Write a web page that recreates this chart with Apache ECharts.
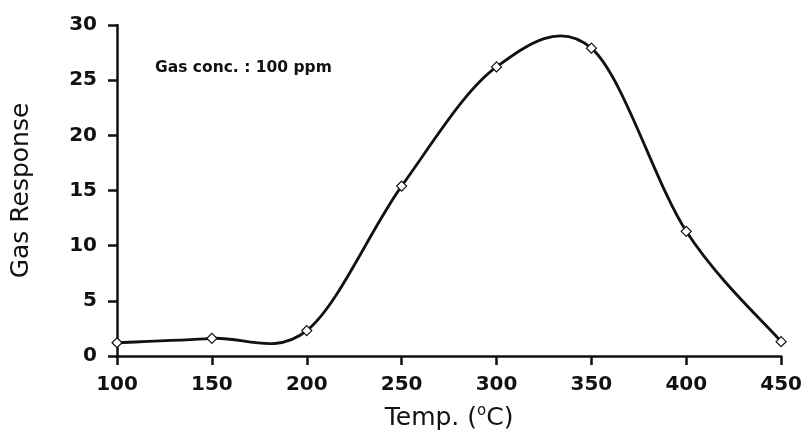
<!DOCTYPE html>
<html>
<head>
<meta charset="utf-8">
<script src="https://cdn.jsdelivr.net/npm/echarts@6/dist/echarts.min.js"></script>
<style>
html,body{margin:0;padding:0;background:#fff;}
#chart{width:805px;height:439px;}
</style>
</head>
<body>
<div id="chart"></div>
<script>
// Data
const temperatures = [100, 150, 200, 250, 300, 350, 400, 450];
const gasResponse = [1.2, 1.6, 2.3, 15.4, 26.2, 27.9, 11.3, 1.3];
const xTicks = [100, 150, 200, 250, 300, 350, 400, 450];
const yTicks = [0, 5, 10, 15, 20, 25, 30];
const annotation = 'Gas conc. : 100 ppm';

const points = temperatures.map((t, i) => [t, gasResponse[i]]);
const ink = '#111';

// Smooth (Catmull-Rom style) curve segment between point i and i+1, in pixel space via the axes
function renderSegment(params, api) {
  const i = params.dataIndex;
  const n = points.length;
  if (i >= n - 1) return null;
  const P = k => api.coord(points[Math.max(0, Math.min(n - 1, k))]);
  const p0 = P(i - 1), p1 = P(i), p2 = P(i + 1), p3 = P(i + 2);
  const t = 1 / 6;
  return {
    type: 'bezierCurve',
    shape: {
      x1: p1[0], y1: p1[1],
      x2: p2[0], y2: p2[1],
      cpx1: p1[0] + (p2[0] - p0[0]) * t,
      cpy1: p1[1] + (p2[1] - p0[1]) * t,
      cpx2: p2[0] - (p3[0] - p1[0]) * t,
      cpy2: p2[1] - (p3[1] - p1[1]) * t
    },
    style: {stroke: ink, lineWidth: 2.8, fill: null}
  };
}

const chart = echarts.init(document.getElementById('chart'), null, {renderer: 'canvas'});
chart.setOption({
  animation: false,
  backgroundColor: '#fff',
  grid: {left: 117, right: 23, top: 25, bottom: 83, containLabel: false},
  xAxis: {
    type: 'value',
    min: xTicks[0], max: xTicks[xTicks.length - 1], interval: 50,
    axisLine: {show: true, onZero: false, lineStyle: {color: ink, width: 2.5}},
    axisTick: {show: true, inside: false, length: 9, lineStyle: {color: ink, width: 2.5}},
    axisLabel: {margin: 19, color: ink, fontFamily: 'DejaVu Sans', fontWeight: 'bold', fontSize: 20},
    splitLine: {show: false},
    name: '{t|Temp. (}{s|o}{t|C)}',
    nameLocation: 'middle',
    nameGap: 48,
    nameTextStyle: {
      rich: {
        t: {fontFamily: 'DejaVu Sans', fontSize: 25, color: ink, lineHeight: 28},
        s: {fontFamily: 'DejaVu Sans', fontSize: 15, color: ink, verticalAlign: 'top', lineHeight: 14}
      }
    }
  },
  yAxis: {
    type: 'value',
    min: yTicks[0], max: yTicks[yTicks.length - 1], interval: 5,
    axisLine: {show: true, onZero: false, lineStyle: {color: ink, width: 2.5}},
    axisTick: {show: true, inside: false, length: 9, lineStyle: {color: ink, width: 2.5}},
    axisLabel: {margin: 20, color: ink, fontFamily: 'DejaVu Sans', fontWeight: 'bold', fontSize: 20},
    splitLine: {show: false},
    name: 'Gas Response',
    nameLocation: 'middle',
    nameGap: 83,
    nameTextStyle: {fontFamily: 'DejaVu Sans', fontSize: 25, color: ink}
  },
  graphic: [{
    type: 'text', left: 155, top: 60,
    style: {text: annotation, fontFamily: 'DejaVu Sans', fontWeight: 'bold', fontSize: 15.5, fill: ink}
  }],
  series: [{
    type: 'custom',
    renderItem: renderSegment,
    data: points,
    encode: {x: 0, y: 1},
    z: 2,
    clip: false
  }, {
    type: 'scatter',
    data: points,
    symbol: 'diamond',
    symbolSize: 10,
    itemStyle: {color: '#fff', borderColor: ink, borderWidth: 1.2, opacity: 1},
    z: 3
  }]
});
</script>
</body>
</html>
